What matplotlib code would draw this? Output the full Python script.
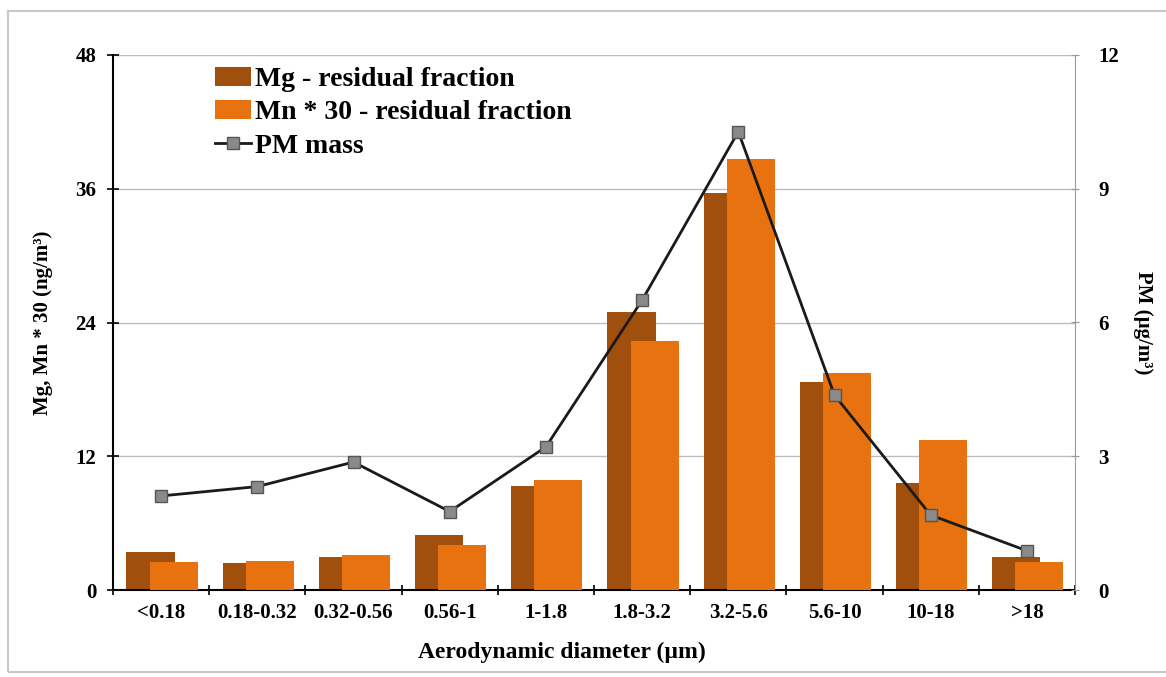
import matplotlib
matplotlib.use("Agg")
import matplotlib.pyplot as plt
import numpy as np
from matplotlib.patches import Rectangle

# size classes and concentrations
sizes = ["<0.18", "0.18-0.32", "0.32-0.56", "0.56-1", "1-1.8",
         "1.8-3.2", "3.2-5.6", "5.6-10", "10-18", ">18"]
mg_residual = [3.4, 2.4, 3.0, 4.9, 9.3, 24.9, 35.6, 18.7, 9.6, 3.0]
mn30_residual = [2.5, 2.6, 3.1, 4.0, 9.9, 22.3, 38.7, 19.5, 13.5, 2.5]
pm_mass = [2.11, 2.32, 2.87, 1.76, 3.21, 6.5, 10.28, 4.37, 1.68, 0.88]

plt.rcParams['font.family'] = ['Liberation Serif', 'DejaVu Serif']
plt.rcParams['font.weight'] = 'bold'
plt.rcParams['axes.labelweight'] = 'bold'

fig = plt.figure(figsize=(11.66, 6.77), dpi=100)
ax = fig.add_axes([113 / 1166, 1 - 590 / 677, 962 / 1166, 535 / 677])
ax2 = ax.twinx()

x = np.arange(len(sizes))
ax.bar(x - 0.11, mg_residual, width=0.5, color="#A14F0C",
       label="Mg - residual fraction", zorder=2)
ax.bar(x + 0.13, mn30_residual, width=0.5, color="#E8720F",
       label="Mn * 30 - residual fraction", zorder=3)
ax2.plot(x, pm_mass, color="#1a1a1a", lw=2, marker="s", ms=8,
         mfc="#8a8a8a", mec="#555555", mew=1, label="PM mass", zorder=4)

ax.set_xlim(-0.5, len(sizes) - 0.5)
ax.set_ylim(0, 48)
ax2.set_ylim(0, 12)
ax.set_yticks([0, 12, 24, 36, 48])
ax2.set_yticks([0, 3, 6, 9, 12])
ax.yaxis.grid(True, color="#bdbdbd", lw=1, zorder=0)
ax.set_axisbelow(True)

ax.set_xticks(x)
ax.set_xticklabels(sizes, fontsize=15)
ax.set_xticks(np.arange(-0.5, len(sizes)), minor=True)
ax.tick_params(axis="x", which="major", length=0, pad=9)
ax.tick_params(axis="x", which="minor", length=7, direction="inout", width=1.2)
ax.tick_params(axis="y", labelsize=15, length=8, direction="inout", width=1.2, pad=8)
ax2.tick_params(axis="y", labelsize=15, length=6, direction="inout",
                color="#9a9a9a", pad=14)

ax.spines["top"].set_visible(False)
ax2.spines["top"].set_visible(False)
ax.spines["left"].set_linewidth(1.5)
ax.spines["bottom"].set_linewidth(1.5)
ax2.spines["left"].set_visible(False)
ax2.spines["bottom"].set_visible(False)
ax.spines["right"].set_visible(False)
ax2.spines["right"].set_color("#9a9a9a")

ax.set_xlabel("Aerodynamic diameter (\u00b5m)", fontsize=17)
ax.xaxis.set_label_coords(0.467, -0.097)
ax.set_ylabel("Mg, Mn * 30 (ng/m\u00b3)", fontsize=15, labelpad=16)
ax2.set_ylabel("PM (\u00b5g/m\u00b3)", fontsize=15, rotation=270, labelpad=24)

h1, l1 = ax.get_legend_handles_labels()
h2, l2 = ax2.get_legend_handles_labels()
leg = ax2.legend(h1 + h2, l1 + l2, loc="upper left",
                 bbox_to_anchor=(0.08, 1.025), frameon=False,
                 prop={"size": 20, "weight": "bold"},
                 handlelength=1.3, handletextpad=0.15, labelspacing=0.28)

# thin frame around the figure
fig.patches.append(Rectangle((8 / 1166, 5 / 677), 1.2, 1 - 16 / 677,
                             transform=fig.transFigure, fill=False,
                             ec="#c8c8c8", lw=1.5))

fig.savefig("out.png", dpi=100)
